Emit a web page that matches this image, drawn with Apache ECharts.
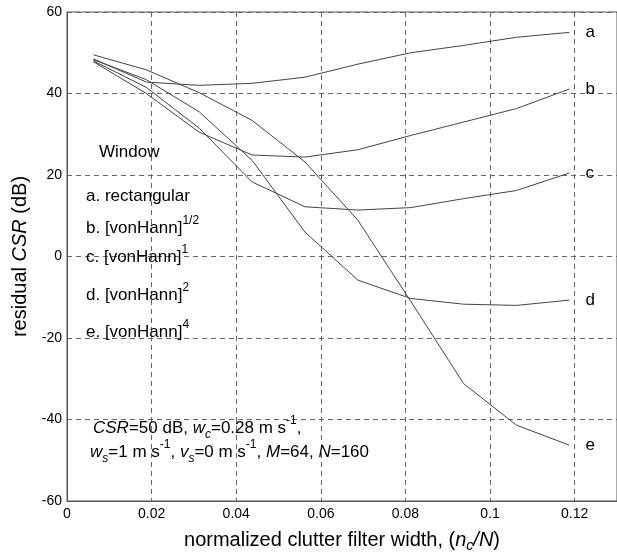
<!DOCTYPE html>
<html>
<head>
<meta charset="utf-8">
<script src="https://cdn.jsdelivr.net/npm/echarts@6/dist/echarts.min.js"></script>
<style>
  html, body { margin: 0; padding: 0; background: #fff; }
  #chart { width: 617px; height: 559px; }
</style>
</head>
<body>
<div id="chart"></div>
<script>
// normalized clutter filter widths n_c/N (N=160)
var widths = [0.00625, 0.01875, 0.03125, 0.04375, 0.05625, 0.06875, 0.08125, 0.09375, 0.10625, 0.11875];

// residual CSR (dB) per window
var rectangular = [48.5, 42.8, 42.0, 42.5, 44.0, 47.2, 50.0, 51.8, 53.8, 55.0];
var vonHannHalf = [47.8, 40.0, 30.5, 24.9, 24.4, 26.2, 29.7, 33.0, 36.3, 41.1];
var vonHann1 = [48.0, 41.5, 31.5, 18.3, 12.2, 11.4, 12.0, 14.2, 16.2, 20.5];
var vonHann2 = [48.3, 43.4, 35.5, 23.6, 6.0, -5.8, -10.3, -11.7, -12.0, -10.7];
var vonHann4 = [49.5, 45.8, 40.2, 33.4, 23.2, 8.9, -11.0, -31.2, -41.4, -46.3];

var seriesNames = ['a', 'b', 'c', 'd', 'e'];
var seriesValues = [rectangular, vonHannHalf, vonHann1, vonHann2, vonHann4];

// window key: [text, exponent]
var windowTitle = 'Window';
var windowKeys = ['a. rectangular', 'b. [vonHann]', 'c. [vonHann]', 'd. [vonHann]', 'e. [vonHann]'];
var windowPowers = ['', '1/2', '1', '2', '4'];

var FONT = '"Liberation Sans", Arial, Helvetica, sans-serif';

function pairs(xs, ys) {
  var out = [];
  for (var i = 0; i < xs.length; i++) {
    out.push([xs[i], ys[i]]);
  }
  return out;
}

function richSet(size) {
  return {
    n: { fontSize: size, fontFamily: FONT, color: '#000', lineHeight: 26 },
    i: { fontSize: size, fontFamily: FONT, fontStyle: 'italic', color: '#000', lineHeight: 26 },
    sup: { fontSize: Math.round(size * 0.68), fontFamily: FONT, color: '#000', verticalAlign: 'top', lineHeight: 14 },
    sub: { fontSize: Math.round(size * 0.72), fontFamily: FONT, fontStyle: 'italic', color: '#000', verticalAlign: 'bottom', lineHeight: 14 }
  };
}

function textItem(x, y, text) {
  return {
    type: 'text',
    x: x,
    y: y,
    z: 10,
    style: {
      text: text,
      rich: richSet(17),
      verticalAlign: 'middle',
      align: 'left'
    }
  };
}

var myChart = echarts.init(document.getElementById('chart'));

var series = [];
for (var s = 0; s < seriesNames.length; s++) {
  series.push({
    name: seriesNames[s],
    type: 'line',
    data: pairs(widths, seriesValues[s]),
    symbol: 'none',
    smooth: false,
    lineStyle: { color: '#444', width: 1 },
    endLabel: {
      show: true,
      formatter: '{a}',
      distance: 16,
      color: '#000',
      fontSize: 17,
      fontFamily: FONT
    },
    z: 3
  });
}

var keyY = [196, 228, 257, 295, 332];
var graphics = [textItem(99, 152, '{n|' + windowTitle + '}')];
for (var k = 0; k < windowKeys.length; k++) {
  var t = '{n|' + windowKeys[k] + '}';
  if (windowPowers[k]) t += '{sup|' + windowPowers[k] + '}';
  graphics.push(textItem(86, keyY[k], t));
}
graphics.push(textItem(93, 428, '{i|CSR}{n|=50 dB, }{i|w}{sub|c}{n|=0.28 m s}{sup|-1}{n|,}'));
graphics.push(textItem(90, 452, '{i|w}{sub|s}{n|=1 m s}{sup|-1}{n|, }{i|v}{sub|s}{n|=0 m s}{sup|-1}{n|, }{i|M}{n|=64, }{i|N}{n|=160}'));

var option = {
  animation: false,
  backgroundColor: '#fff',
  grid: {
    left: 67,
    right: -1,
    top: 12,
    bottom: 58,
    show: true,
    borderColor: '#555',
    borderWidth: 1
  },
  xAxis: {
    type: 'value',
    min: 0,
    max: 0.13,
    interval: 0.02,
    name: '{n|normalized clutter filter width, (}{i|n}{sub|c}{i|/N}{n|)}',
    nameLocation: 'middle',
    nameGap: 26,
    nameTextStyle: { rich: richSet(20) },
    axisLine: { show: true, onZero: false, lineStyle: { color: '#555', width: 1 } },
    axisTick: { show: false },
    axisLabel: {
      color: '#000',
      fontSize: 14,
      fontFamily: FONT,
      margin: 6,
      showMaxLabel: false,
      formatter: function (v) { return v === 0 ? '0' : String(+v.toFixed(2)); }
    },
    splitLine: { show: true, lineStyle: { color: '#666', type: [5, 4], width: 1 } }
  },
  yAxis: {
    type: 'value',
    min: -60,
    max: 60,
    interval: 20,
    name: '{n|residual }{i|CSR}{n| (dB)}',
    nameLocation: 'middle',
    nameGap: 34,
    nameTextStyle: { rich: richSet(20) },
    axisLine: { show: true, onZero: false, lineStyle: { color: '#555', width: 1 } },
    axisTick: { show: false },
    axisLabel: { color: '#000', fontSize: 14, fontFamily: FONT, margin: 5 },
    splitLine: { show: true, lineStyle: { color: '#666', type: [5, 4], width: 1 } }
  },
  graphic: graphics,
  series: series
};

myChart.setOption(option);
window.addEventListener('resize', function () {
  setTimeout(function () {
    myChart.resize();
  }, 0);
});
</script>
</body>
</html>
